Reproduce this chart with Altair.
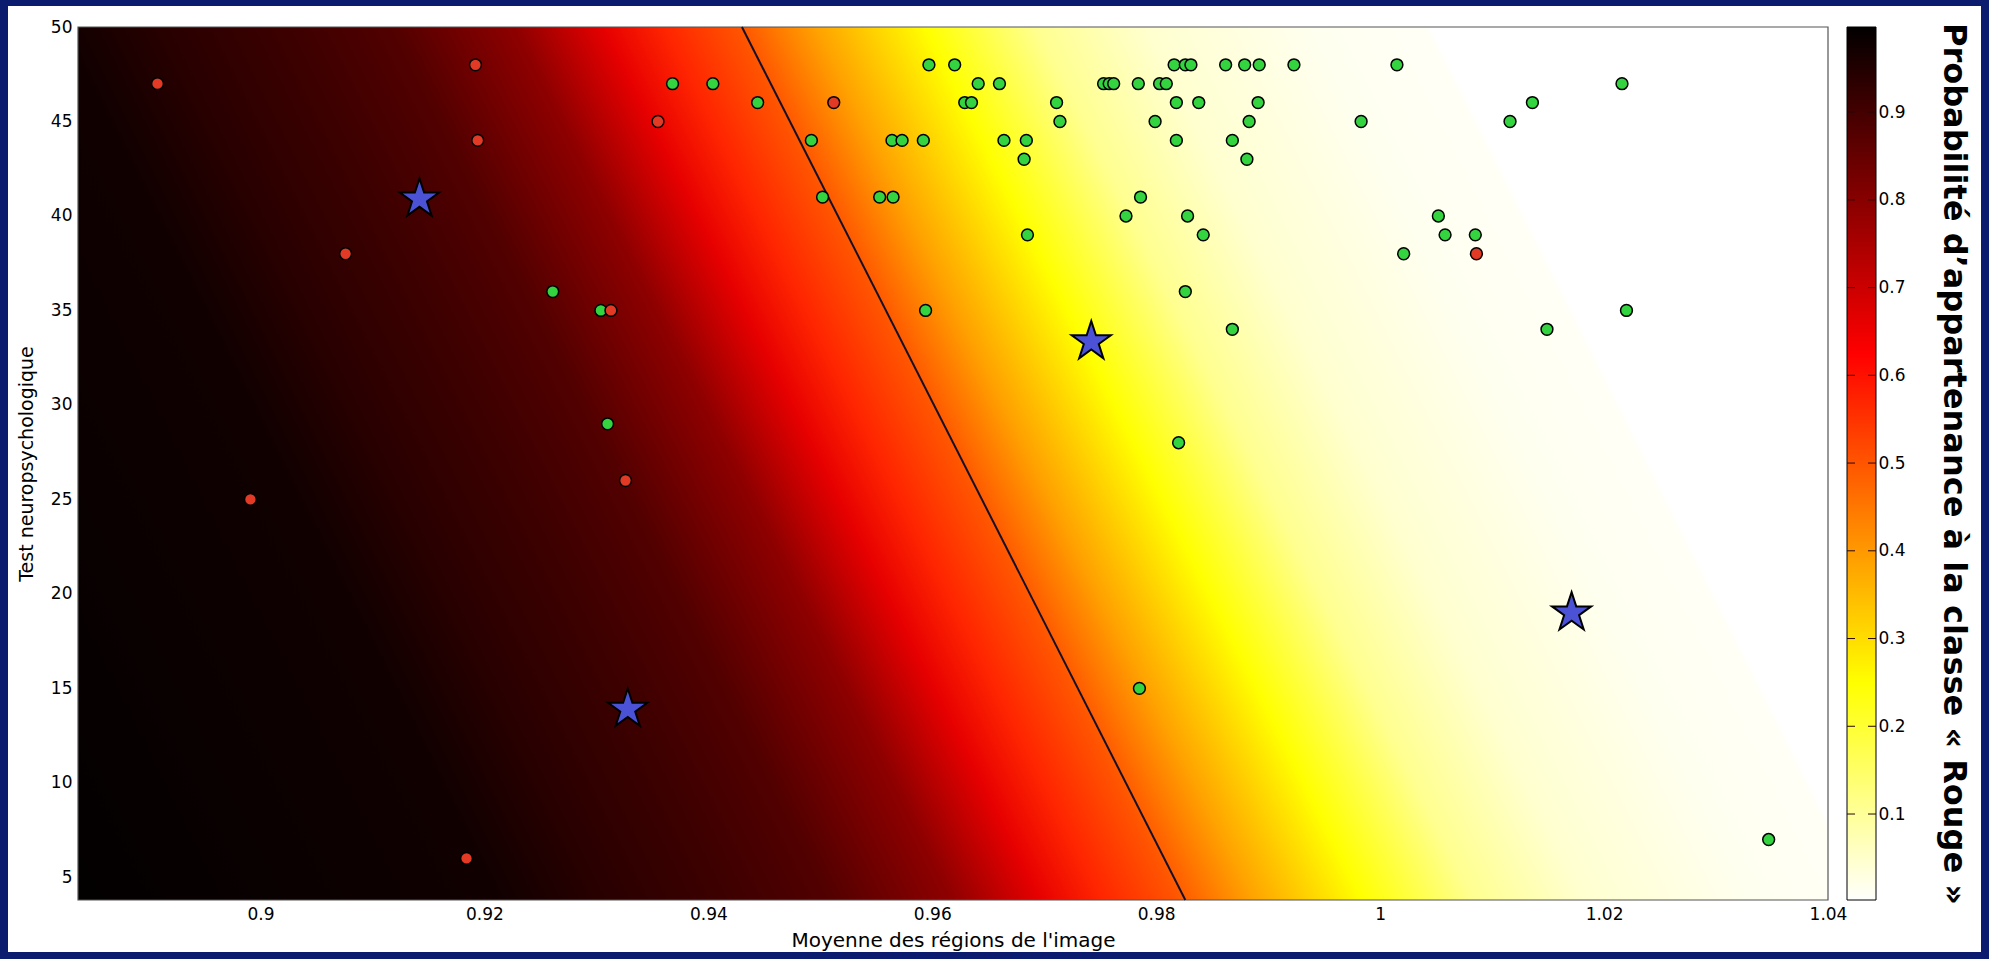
import math
import altair as alt
import pandas as pd

# ---------------- axes ----------------
X_MIN, X_MAX = 0.8837, 1.04
Y_MIN, Y_MAX = 3.8, 50.0
x_ticks = [0.9, 0.92, 0.94, 0.96, 0.98, 1.0, 1.02, 1.04]
y_ticks = [5, 10, 15, 20, 25, 30, 35, 40, 45, 50]

# ---------------- data ----------------
red_x = [0.8908, 0.9192, 0.9194, 0.9076, 0.9313, 0.9355, 0.9512, 0.9184, 0.8991, 0.9326, 1.0086]
red_y = [47, 48, 44, 38, 35, 45, 46, 6, 25, 26, 38]

green_x = [
    0.9597, 0.9620, 0.9816, 0.9826, 0.9831, 0.9862, 0.9879, 0.9892, 0.9923, 1.0015,
    0.9368, 0.9404, 0.9641, 0.9660, 0.9753, 0.9758, 0.9762, 0.9784, 0.9803, 0.9809, 1.0216,
    0.9444, 0.9629, 0.9635, 0.9711, 0.9818, 0.9838, 0.9891, 1.0136,
    0.9714, 0.9799, 0.9883, 0.9983, 1.0116,
    0.9492, 0.9564, 0.9573, 0.9592, 0.9664, 0.9684, 0.9818, 0.9868,
    0.9682, 0.9881,
    0.9502, 0.9553, 0.9565, 0.9786,
    0.9773, 0.9828, 1.0052,
    0.9685, 0.9842, 1.0058, 1.0085,
    1.0021,
    0.9261, 0.9826,
    0.9304, 0.9594, 1.0220,
    0.9868, 1.0149,
    0.9310, 0.9820, 0.9785, 1.0347,
]
green_y = (
    [48] * 10 + [47] * 11 + [46] * 8 + [45] * 5 + [44] * 8 + [43] * 2 + [41] * 4
    + [40] * 3 + [39] * 4 + [38] + [36] * 2 + [35] * 3 + [34] * 2 + [29, 28, 15, 7]
)

star_x = [0.9142, 0.9328, 0.9742, 1.0171]
star_y = [40.9, 13.9, 33.35, 19.0]

boundary_x = [0.9430, 0.9826]
boundary_y = [50.0, 3.8]

# probability field: value of P(Rouge) across the (parallel, slanted) iso-lines.
# position w = horizontal fraction of the plot width, measured on the top edge
field_w = [-0.25, -0.01, 0.05, 0.12, 0.18, 0.25, 0.30, 0.335, 0.378, 0.42, 0.484,
           0.547, 0.611, 0.707, 0.770, 0.773, 1.0]
field_p = [0.995, 0.975, 0.94, 0.91, 0.88, 0.79, 0.66, 0.57, 0.50, 0.39, 0.25,
           0.109, 0.046, 0.015, 0.008, 0.0, 0.0]
ISO_SHIFT = 0.25  # an iso-line moves right by this fraction of the width from top to bottom

cbar_lo, cbar_hi = 0.002, 0.997
cbar_ticks = [0.1, 0.2, 0.3, 0.4, 0.5, 0.6, 0.7, 0.8, 0.9]

# ---------------- styling ----------------
NAVY = "#0b1c6e"
W, H = 1750, 873
FONT = "DejaVu Sans"


def hot_r(p):
    v = 1 - p
    r = min(max(v / 0.375, 0), 1)
    g = min(max((v - 0.375) / 0.375, 0), 1)
    b = min(max((v - 0.75) / 0.25, 0), 1)
    return "#%02x%02x%02x" % (round(r * 255), round(g * 255), round(b * 255))


S = ISO_SHIFT
a = (1 + S) / (1 + S * S)
field_grad = alt.LinearGradient(
    gradient="linear",
    x1=0, y1=1, x2=a, y2=1 - S * a,
    stops=[alt.GradientStop(color=hot_r(p), offset=(w + S) / (1 + S))
           for w, p in zip(field_w, field_p)],
)

cb_ps = [cbar_lo, 0.25, 0.625, cbar_hi]
cbar_grad = alt.LinearGradient(
    gradient="linear",
    x1=0, y1=1, x2=0, y2=0,
    stops=[alt.GradientStop(color=hot_r(p), offset=(p - cbar_lo) / (cbar_hi - cbar_lo))
           for p in cb_ps],
)

# five-pointed star path
pts = []
for k in range(10):
    ang = -math.pi / 2 + k * math.pi / 5
    r = 1.0 if k % 2 == 0 else 0.382
    pts.append(f"{r * math.cos(ang):.4f},{r * math.sin(ang):.4f}")
STAR = "M" + " L".join(pts) + " Z"

xscale = alt.Scale(domain=[X_MIN, X_MAX], nice=False, zero=False)
yscale = alt.Scale(domain=[Y_MIN, Y_MAX], nice=False, zero=False)

x_axis = alt.Axis(
    values=x_ticks, format="~g", domain=False, ticks=False, grid=False, zindex=2,
    labelFont=FONT, labelFontSize=17, labelColor="black", labelPadding=6,
    labelFlush=False, labelOverlap=False,
    title="Moyenne des régions de l'image", titleFont=FONT, titleFontSize=20,
    titleFontWeight="normal", titleColor="black", titleY=40, titleBaseline="middle",
)
y_axis = alt.Axis(
    values=y_ticks, domain=False, ticks=False, grid=False, zindex=2,
    labelFont=FONT, labelFontSize=17, labelColor="black", labelPadding=6,
    labelFlush=False, labelOverlap=False,
    title="Test neuropsychologique", titleFont=FONT, titleFontSize=19,
    titleFontWeight="normal", titleColor="black", titleAngle=270,
    titleX=-52, titleY=H / 2, titleBaseline="middle", titleAlign="center",
)

one = alt.Data(values=[{"k": 1}])

panel = alt.Chart(one).mark_rect(color="white").encode(
    x=alt.value(-70), x2=alt.value(1903), y=alt.value(-21), y2=alt.value(925)
)

field = alt.Chart(pd.DataFrame({"x0": [X_MIN], "x1": [X_MAX], "y0": [Y_MIN], "y1": [Y_MAX]})).mark_rect(
    color=field_grad, stroke="#555555", strokeWidth=1.2
).encode(
    x=alt.X("x0:Q", scale=xscale, axis=x_axis),
    x2="x1:Q",
    y=alt.Y("y0:Q", scale=yscale, axis=y_axis),
    y2="y1:Q",
)

boundary = alt.Chart(pd.DataFrame({"x": boundary_x, "y": boundary_y})).mark_line(
    color="#16102a", strokeWidth=2
).encode(x=alt.X("x:Q", scale=xscale), y=alt.Y("y:Q", scale=yscale))

greens = alt.Chart(pd.DataFrame({"x": green_x, "y": green_y})).mark_point(
    shape="circle", filled=True, color="#33d43f", stroke="black", strokeWidth=1.5,
    size=140, opacity=1, strokeOpacity=1,
).encode(x=alt.X("x:Q", scale=xscale), y=alt.Y("y:Q", scale=yscale))

reds = alt.Chart(pd.DataFrame({"x": red_x, "y": red_y})).mark_point(
    shape="circle", filled=True, color="#e23a24", stroke="black", strokeWidth=1.5,
    size=140, opacity=1, strokeOpacity=1,
).encode(x=alt.X("x:Q", scale=xscale), y=alt.Y("y:Q", scale=yscale))

stars = alt.Chart(pd.DataFrame({"x": star_x, "y": star_y})).mark_point(
    shape=STAR, filled=True, color="#4b52d6", stroke="black", strokeWidth=2,
    size=1700, opacity=1, strokeOpacity=1,
).encode(x=alt.X("x:Q", scale=xscale), y=alt.Y("y:Q", scale=yscale))

main = alt.layer(panel, field, boundary, greens, reds, stars)

# ---------------- colour bar ----------------
CB_L, CB_R = 1769, 1798
cscale = alt.Scale(domain=[cbar_lo, cbar_hi], nice=False, zero=False)
c_axis = alt.Axis(
    orient="right", offset=CB_R - W, values=cbar_ticks, format=".1f",
    domain=False, ticks=False, grid=False, zindex=2,
    labelFont=FONT, labelFontSize=17, labelColor="black", labelPadding=2,
    title="Probabilité d’appartenance à la classe « Rouge »",
    titleFont=FONT, titleFontSize=32, titleFontWeight="bold", titleColor="black",
    titleAngle=90, titleX=77, titleY=H / 2, titleAlign="center", titleBaseline="middle",
)

cb_rect = alt.Chart(pd.DataFrame({"lo": [cbar_lo], "hi": [cbar_hi]})).mark_rect(
    color=cbar_grad, stroke="black", strokeWidth=1
).encode(
    x=alt.value(CB_L), x2=alt.value(CB_R),
    y=alt.Y("lo:Q", scale=cscale, axis=c_axis), y2="hi:Q",
)
tick_df = pd.DataFrame({"p": cbar_ticks})
cb_tick_l = alt.Chart(tick_df).mark_rule(color="#2a0505", strokeWidth=1).encode(
    x=alt.value(CB_L), x2=alt.value(CB_L + 8), y=alt.Y("p:Q", scale=cscale, axis=c_axis)
)
cb_tick_r = alt.Chart(tick_df).mark_rule(color="#2a0505", strokeWidth=1).encode(
    x=alt.value(CB_R - 8), x2=alt.value(CB_R), y=alt.Y("p:Q", scale=cscale, axis=c_axis)
)
cbar = alt.layer(cb_rect, cb_tick_l, cb_tick_r)

chart = (
    alt.layer(main, cbar)
    .resolve_scale(y="independent")
    .properties(
        width=W, height=H, background=NAVY,
        padding={"left": 78, "top": 27, "right": 161, "bottom": 59},
        autosize=alt.AutoSizeParams(type="none"),
    )
    .configure_view(stroke=None)
)

chart.save("out.html", embed_options={"renderer": "svg", "actions": False})
